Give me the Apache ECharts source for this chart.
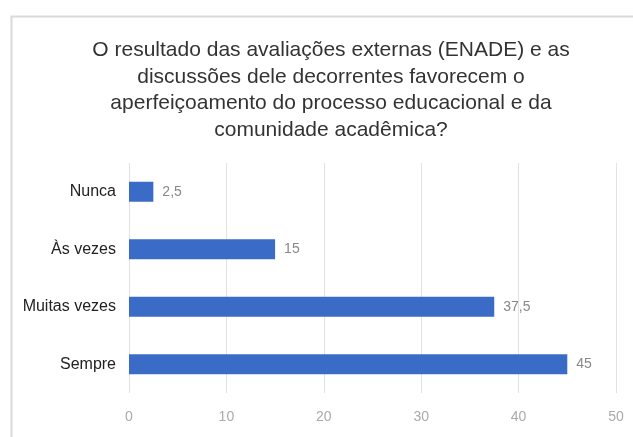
<!DOCTYPE html>
<html>
<head>
<meta charset="utf-8">
<style>
html,body{margin:0;padding:0;background:#fff;}
#c{width:633px;height:437px;}
</style>
<script src="https://cdn.jsdelivr.net/npm/echarts@6/dist/echarts.min.js"></script>
</head>
<body>
<div id="c"></div>
<script>
const titleText = 'O resultado das avaliações externas (ENADE) e as\ndiscussões dele decorrentes favorecem o\naperfeiçoamento do processo educacional e da\ncomunidade acadêmica?';
const categories = ['Nunca', 'Às vezes', 'Muitas vezes', 'Sempre'];
const values = [2.5, 15, 37.5, 45];
const valueLabels = ['2,5', '15', '37,5', '45'];
const xTicks = [0, 10, 20, 30, 40, 50];

const chart = echarts.init(document.getElementById('c'), null, {renderer: 'canvas'});
chart.setOption({
  backgroundColor: '#fff',
  animation: false,
  graphic: [{
    type: 'rect',
    shape: {x: 11.5, y: 16.5, width: 700, height: 500},
    style: {fill: 'none', stroke: '#d9d9d9', lineWidth: 2},
    silent: true
  }],
  title: {
    text: titleText,
    left: 326,
    textAlign: 'center',
    top: 32,
    textStyle: {
      fontFamily: 'Liberation Sans',
      fontSize: 21,
      fontWeight: 'normal',
      color: '#333',
      lineHeight: 26.5
    }
  },
  grid: {left: 129, right: 17, top: 163, bottom: 44, containLabel: false},
  xAxis: {
    type: 'value',
    min: 0,
    max: 50,
    interval: 10,
    axisLine: {show: false},
    axisTick: {show: false},
    splitLine: {lineStyle: {color: '#e2e2e2', width: 1}},
    axisLabel: {
      margin: 17,
      fontFamily: 'Liberation Sans',
      fontSize: 14,
      color: '#aaa',
      formatter: v => xTicks.includes(v) ? String(v) : ''
    }
  },
  yAxis: {
    type: 'category',
    data: categories,
    inverse: true,
    axisLine: {show: false},
    axisTick: {show: false},
    splitLine: {show: false},
    axisLabel: {
      margin: 13,
      fontFamily: 'Liberation Sans',
      fontSize: 16,
      color: '#222'
    }
  },
  series: [{
    type: 'bar',
    data: values,
    barWidth: 20,
    itemStyle: {color: '#3a6bc6'},
    label: {
      show: true,
      position: 'right',
      distance: 9,
      fontFamily: 'Liberation Sans',
      fontSize: 14,
      color: '#888',
      formatter: p => valueLabels[p.dataIndex]
    }
  }]
});
</script>
</body>
</html>
